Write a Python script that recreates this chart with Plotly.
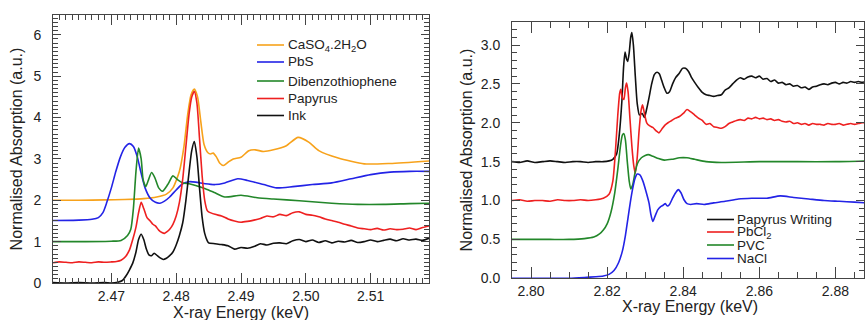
import plotly.graph_objects as go

W, H = 865, 320

# ---------------- Left panel data (S K-edge) ----------------
caso4_x = [2.461, 2.465, 2.469, 2.472, 2.475, 2.477, 2.4785, 2.4795, 2.4805, 2.4812, 2.4818, 2.4823,
           2.4828, 2.4833, 2.4838, 2.4843, 2.4849, 2.4853, 2.4857, 2.4862, 2.4867, 2.4873, 2.488, 2.4888,
           2.490, 2.4912, 2.4922, 2.4935, 2.495, 2.497, 2.4988, 2.5005, 2.502, 2.505, 2.509, 2.513, 2.519]
caso4_y = [2.00, 2.00, 2.01, 2.02, 2.04, 2.08, 2.15, 2.30, 2.70, 3.30, 4.10, 4.55,
           4.69, 4.50, 3.90, 3.35, 3.15, 3.12, 3.14, 3.05, 2.90, 2.84, 2.92, 3.00,
           3.04, 3.20, 3.22, 3.18, 3.22, 3.32, 3.52, 3.40, 3.20, 3.02, 2.88, 2.89, 2.95]

pbs_x = [2.461, 2.465, 2.467, 2.468, 2.4687, 2.4693, 2.470, 2.4707, 2.4714, 2.4721, 2.4728, 2.4734,
         2.4740, 2.4746, 2.4752, 2.4760, 2.4768, 2.4775, 2.4782, 2.479, 2.480, 2.481, 2.482, 2.483,
         2.4845, 2.486, 2.4875, 2.4895, 2.491, 2.4935, 2.4955, 2.498, 2.501, 2.504, 2.507, 2.510,
         2.513, 2.516, 2.519]
pbs_y = [1.51, 1.52, 1.54, 1.58, 1.70, 1.95, 2.30, 2.70, 3.05, 3.28, 3.37, 3.30,
         3.05, 2.65, 2.30, 2.05, 1.95, 1.93, 1.98, 2.08, 2.25, 2.40, 2.45, 2.44,
         2.40, 2.38, 2.42, 2.52, 2.48, 2.38, 2.30, 2.33, 2.38, 2.42, 2.52, 2.62,
         2.68, 2.70, 2.70]

dbt_x = [2.461, 2.466, 2.470, 2.4715, 2.4725, 2.4730, 2.4734, 2.4738, 2.4742, 2.4746, 2.4749, 2.4753,
         2.4757, 2.4762, 2.4767, 2.4773, 2.4779, 2.4787, 2.4795, 2.4802, 2.481, 2.482, 2.483, 2.4845,
         2.486, 2.4875, 2.490, 2.4925, 2.495, 2.499, 2.504, 2.508, 2.512, 2.516, 2.519]
dbt_y = [1.00, 1.00, 1.01, 1.03, 1.15, 1.30, 1.80, 2.70, 3.26, 3.00, 2.50, 2.33,
         2.48, 2.67, 2.55, 2.30, 2.22, 2.38, 2.59, 2.50, 2.42, 2.40, 2.36, 2.28,
         2.18, 2.08, 2.12, 2.06, 2.03, 1.99, 1.93, 1.90, 1.90, 1.92, 1.93]

papyrus_x = [2.461, 2.462, 2.463, 2.464, 2.465, 2.466, 2.467, 2.468, 2.469, 2.470, 2.4708, 2.4715,
             2.4722, 2.4728, 2.4733, 2.4738, 2.4742, 2.4746, 2.4750, 2.4755, 2.4760, 2.4764, 2.4768,
             2.4773, 2.4778, 2.4782, 2.4786, 2.479, 2.4795, 2.480, 2.4805, 2.481, 2.4815, 2.482,
             2.4824, 2.4828, 2.4832, 2.4836, 2.4840, 2.4844, 2.4848,
             2.485, 2.486, 2.487, 2.488, 2.489, 2.490, 2.491, 2.492, 2.493, 2.494, 2.495, 2.496,
             2.497, 2.498, 2.499, 2.500, 2.501, 2.502, 2.503, 2.504, 2.505, 2.506, 2.507, 2.508,
             2.509, 2.510, 2.511, 2.512, 2.513, 2.514, 2.515, 2.516, 2.517, 2.518, 2.519]
papyrus_y = [0.49, 0.51, 0.50, 0.49, 0.51, 0.50, 0.49, 0.51, 0.50, 0.51, 0.52, 0.55,
             0.64, 0.80, 1.05, 1.35, 1.70, 1.95, 1.80, 1.58, 1.50, 1.42, 1.38,
             1.28, 1.22, 1.20, 1.24, 1.30, 1.42, 1.62, 1.95, 2.50, 3.30, 4.10,
             4.50, 4.63, 4.35, 3.50, 2.60, 2.00, 1.75,
             1.72, 1.66, 1.62, 1.55, 1.50, 1.47, 1.49, 1.52, 1.56, 1.62, 1.60, 1.66,
             1.63, 1.70, 1.72, 1.66, 1.64, 1.60, 1.55, 1.51, 1.47, 1.42, 1.38, 1.33,
             1.31, 1.29, 1.32, 1.28, 1.31, 1.29, 1.30, 1.33, 1.29, 1.34, 1.38]

ink_x = [2.461, 2.463, 2.465, 2.467, 2.469, 2.470, 2.471, 2.4717, 2.4723, 2.4728, 2.4733, 2.4738,
         2.4742, 2.4746, 2.4750, 2.4754, 2.4758, 2.4762, 2.4766, 2.4771, 2.4776, 2.478, 2.4785,
         2.479, 2.4795, 2.480, 2.4805, 2.481, 2.4815, 2.482, 2.4824, 2.4828, 2.4832, 2.4836,
         2.484, 2.4844, 2.4848,
         2.485, 2.486, 2.487, 2.488, 2.489, 2.490, 2.491, 2.492, 2.493, 2.494, 2.495, 2.496,
         2.497, 2.498, 2.499, 2.500, 2.501, 2.502, 2.503, 2.504, 2.505, 2.506, 2.507, 2.508,
         2.509, 2.510, 2.511, 2.512, 2.513, 2.514, 2.515, 2.516, 2.517, 2.518, 2.519]
ink_y = [0.01, 0.00, 0.01, 0.00, 0.01, 0.00, 0.02, 0.06, 0.18, 0.32, 0.48, 0.75,
         1.05, 1.18, 1.05, 0.82, 0.68, 0.66, 0.72, 0.66, 0.60, 0.57, 0.60,
         0.66, 0.75, 0.92, 1.15, 1.45, 2.00, 2.70, 3.20, 3.42, 3.05, 2.30,
         1.60, 1.20, 1.02,
         0.97, 0.95, 0.93, 0.90, 0.82, 0.86, 0.84, 0.88, 0.95, 0.92, 0.96, 0.97,
         0.95, 1.02, 1.05, 1.00, 1.04, 0.98, 1.02, 0.97, 1.01, 0.99, 1.03, 0.98,
         1.00, 1.04, 1.00, 1.03, 1.06, 1.02, 1.07, 1.04, 1.06, 1.03, 1.08]

# ---------------- Right panel data (Cl K-edge) ----------------
writing_x = [2.795, 2.797, 2.799, 2.801, 2.803, 2.805, 2.807, 2.809, 2.811, 2.813, 2.815, 2.817, 2.819,
             2.8205, 2.8215, 2.8225, 2.8232, 2.8239, 2.8243, 2.8247, 2.8251, 2.8254, 2.8258, 2.8262,
             2.8265, 2.8269, 2.8274, 2.8279, 2.8285, 2.8292, 2.8298, 2.8304, 2.8310, 2.8317, 2.8324,
             2.8331, 2.8337, 2.8343, 2.8350, 2.8357, 2.8364, 2.8372, 2.8380, 2.8390, 2.8398, 2.8406,
             2.8414, 2.8422, 2.8430, 2.8440, 2.8450, 2.846, 2.847, 2.848, 2.849, 2.850, 2.851, 2.852,
             2.853, 2.854, 2.855, 2.856, 2.857, 2.858, 2.859, 2.860, 2.861, 2.862, 2.863, 2.864,
             2.865, 2.866, 2.867, 2.868, 2.869, 2.870, 2.871, 2.872, 2.873, 2.874, 2.875, 2.876,
             2.877, 2.878, 2.879, 2.880, 2.881, 2.882, 2.883, 2.884, 2.885, 2.886, 2.887, 2.888]
writing_y = [1.50, 1.49, 1.51, 1.49, 1.50, 1.51, 1.50, 1.49, 1.50, 1.50, 1.49, 1.50, 1.50,
             1.51, 1.53, 1.60, 1.85, 2.30, 2.70, 2.91, 2.82, 2.79, 2.90, 3.10,
             3.16, 3.00, 2.60, 2.25, 2.10, 2.12, 2.07, 2.18, 2.32, 2.50, 2.62,
             2.65, 2.63, 2.55, 2.45, 2.38, 2.40, 2.50, 2.58, 2.64, 2.70, 2.70,
             2.66, 2.58, 2.52, 2.45, 2.39, 2.36, 2.35, 2.34, 2.35, 2.36, 2.42, 2.45,
             2.50, 2.55, 2.58, 2.56, 2.59, 2.60, 2.58, 2.60, 2.56, 2.57, 2.53, 2.55,
             2.51, 2.52, 2.49, 2.50, 2.47, 2.48, 2.45, 2.46, 2.43, 2.46, 2.47, 2.49,
             2.50, 2.49, 2.51, 2.52, 2.50, 2.52, 2.51, 2.53, 2.52, 2.53, 2.52, 2.53]

pbcl2_x = [2.795, 2.797, 2.799, 2.801, 2.803, 2.805, 2.807, 2.809, 2.811, 2.813, 2.815, 2.817, 2.819,
           2.8205, 2.8215, 2.8222, 2.8228, 2.8233, 2.8236, 2.8240, 2.8244, 2.8248, 2.8251, 2.8255,
           2.8260, 2.8265, 2.8270, 2.8274, 2.8279, 2.8284, 2.8289, 2.8293, 2.8298, 2.8304, 2.8312,
           2.8320, 2.8328, 2.8336, 2.8344, 2.8352, 2.836, 2.837, 2.838, 2.839, 2.840, 2.841, 2.842,
           2.843, 2.844, 2.845, 2.846, 2.847, 2.848, 2.849, 2.850, 2.851, 2.852, 2.853, 2.854,
           2.855, 2.856, 2.857, 2.858, 2.859, 2.860, 2.861, 2.862, 2.863, 2.864, 2.865, 2.866,
           2.867, 2.868, 2.869, 2.870, 2.871, 2.872, 2.873, 2.874, 2.875, 2.876, 2.877, 2.878,
           2.879, 2.880, 2.881, 2.882, 2.883, 2.884, 2.885, 2.886, 2.887, 2.888]
pbcl2_y = [1.00, 1.01, 0.99, 1.00, 1.00, 0.99, 1.01, 1.00, 1.00, 1.01, 1.00, 1.01, 1.03,
           1.08, 1.25, 1.65, 2.10, 2.38, 2.43, 2.32, 2.30, 2.45, 2.51, 2.40,
           2.05, 1.70, 1.45, 1.35, 1.55, 1.90, 2.15, 2.23, 2.12, 2.00, 1.96,
           1.94, 1.90, 1.87, 1.92, 1.97, 2.00, 2.03, 2.06, 2.08, 2.12, 2.17, 2.14,
           2.10, 2.06, 2.03, 1.98, 1.99, 1.95, 1.94, 1.93, 1.95, 1.99, 2.01, 2.03,
           2.04, 2.03, 2.06, 2.05, 2.07, 2.05, 2.06, 2.04, 2.05, 2.03, 2.04, 2.02,
           2.01, 2.02, 1.99, 2.00, 1.98, 1.99, 1.97, 1.99, 1.98, 1.98, 1.97, 1.99,
           1.98, 1.98, 1.99, 1.97, 1.98, 1.99, 1.98, 1.99, 2.00, 2.00]

pvc_x = [2.795, 2.800, 2.805, 2.810, 2.814, 2.8165, 2.8180, 2.8190, 2.8200, 2.8210, 2.8220, 2.8228,
         2.8235, 2.8240, 2.8244, 2.8248, 2.8253, 2.8258, 2.8262, 2.8267, 2.8273, 2.8280, 2.8290,
         2.8300, 2.8308, 2.8320, 2.8335, 2.8350, 2.8370, 2.8390, 2.8410, 2.8430, 2.8460, 2.8500,
         2.8600, 2.8700, 2.8800, 2.8880]
pvc_y = [0.50, 0.50, 0.50, 0.50, 0.51, 0.53, 0.57, 0.62, 0.70, 0.85, 1.10, 1.40,
         1.70, 1.84, 1.86, 1.78, 1.50, 1.25, 1.15, 1.20, 1.35, 1.48, 1.55,
         1.58, 1.59, 1.57, 1.54, 1.52, 1.53, 1.55, 1.55, 1.53, 1.50, 1.49,
         1.50, 1.50, 1.50, 1.51]

nacl_x = [2.795, 2.800, 2.805, 2.810, 2.814, 2.817, 2.819, 2.8205, 2.8218, 2.8230, 2.8240, 2.8248,
          2.8255, 2.8261, 2.8267, 2.8273, 2.8279, 2.8286, 2.8294, 2.8302, 2.8310, 2.8315, 2.8320,
          2.8326, 2.8333, 2.8340, 2.8347, 2.8353, 2.8358, 2.8364, 2.8372, 2.8380, 2.8387, 2.8394,
          2.8402, 2.8410, 2.8420, 2.8435, 2.8455, 2.848, 2.851, 2.8545, 2.858, 2.862, 2.8655,
          2.869, 2.873, 2.877, 2.881, 2.885, 2.888]
nacl_y = [0.00, 0.00, 0.00, 0.00, 0.01, 0.02, 0.03, 0.05, 0.10, 0.20, 0.35, 0.55,
          0.78, 0.98, 1.15, 1.28, 1.34, 1.33, 1.25, 1.12, 0.97, 0.82, 0.73,
          0.80, 0.88, 0.92, 0.94, 0.96, 0.93, 0.95, 1.03, 1.10, 1.14, 1.10,
          1.01, 0.96, 0.95, 0.96, 0.95, 0.97, 0.99, 1.02, 1.03, 1.03, 1.06,
          1.04, 1.02, 1.00, 0.99, 0.98, 0.97]

# ---------------- Series definitions ----------------
left_series = [
    ("CaSO<sub>4</sub>.2H<sub>2</sub>O", caso4_x, caso4_y, "#F7A21B"),
    ("PbS", pbs_x, pbs_y, "#2323E6"),
    ("Dibenzothiophene", dbt_x, dbt_y, "#23872A"),
    ("Papyrus", papyrus_x, papyrus_y, "#EE2020"),
    ("Ink", ink_x, ink_y, "#111111"),
]
right_series = [
    ("Papyrus Writing", writing_x, writing_y, "#111111"),
    ("PbCl<sub>2</sub>", pbcl2_x, pbcl2_y, "#EE2020"),
    ("PVC", pvc_x, pvc_y, "#23872A"),
    ("NaCl", nacl_x, nacl_y, "#2323E6"),
]
x_title = "X-ray Energy (keV)"
y_title = "Normalised Absorption (a.u.)"

FONT = "Liberation Sans, Arial, Helvetica, sans-serif"
TXT = "#222222"
FRAME = "#444444"

fig = go.Figure()
for name, xs, ys, col in left_series:
    fig.add_trace(go.Scatter(x=xs, y=ys, name=name, mode="lines", xaxis="x", yaxis="y",
                             line=dict(color=col, width=1.6, shape="spline", smoothing=0.6),
                             showlegend=False))
for name, xs, ys, col in right_series:
    fig.add_trace(go.Scatter(x=xs, y=ys, name=name, mode="lines", xaxis="x2", yaxis="y2",
                             line=dict(color=col, width=1.6, shape="spline", smoothing=0.6),
                             showlegend=False))

def px(xp):
    return xp / W

def py(yp):
    return 1 - yp / H

# Legends drawn as line samples + text labels
shapes = []
annotations = []
left_leg_y = [45, 62, 81, 98.5, 115.5]
for (name, _, _, col), yy in zip(left_series, left_leg_y):
    shapes.append(dict(type="line", xref="paper", yref="paper", x0=px(257), x1=px(284),
                       y0=py(yy), y1=py(yy), line=dict(color=col, width=1.6), layer="below"))
    annotations.append(dict(text=name, xref="paper", yref="paper", x=px(286), y=py(yy),
                            xanchor="left", yanchor="middle", showarrow=False,
                            font=dict(family=FONT, size=13.5, color=TXT)))
right_leg_y = [219.5, 232, 245, 258.5]
for (name, _, _, col), yy in zip(right_series, right_leg_y):
    shapes.append(dict(type="line", xref="paper", yref="paper", x0=px(707), x1=px(734),
                       y0=py(yy), y1=py(yy), line=dict(color=col, width=1.6), layer="below"))
    annotations.append(dict(text=name, xref="paper", yref="paper", x=px(735), y=py(yy),
                            xanchor="left", yanchor="middle", showarrow=False,
                            font=dict(family=FONT, size=13.5, color=TXT)))

# x-axis titles (placed as text under each panel)
annotations.append(dict(text=x_title, xref="paper", yref="paper", x=px(241), y=py(312),
                        xanchor="center", yanchor="middle", showarrow=False,
                        font=dict(family=FONT, size=16, color=TXT)))
annotations.append(dict(text=x_title, xref="paper", yref="paper", x=px(690), y=py(306),
                        xanchor="center", yanchor="middle", showarrow=False,
                        font=dict(family=FONT, size=16, color=TXT)))

def base():
    return dict(showline=True, linecolor=FRAME, linewidth=1, mirror="allticks",
                ticks="inside", tickcolor=FRAME, tickwidth=1, showgrid=False, zeroline=False,
                tickfont=dict(family=FONT, size=14, color=TXT), automargin=False)

xaxis = base()
xaxis.update(domain=[53 / W, 429 / W], anchor="y", range=[2.461, 2.519], dtick=0.01,
             tickformat=".2f", ticklen=10, tick0=2.47,
             minor=dict(ticks="inside", ticklen=5, dtick=0.001, tickcolor=FRAME, showgrid=False))
yaxis = base()
yaxis.update(domain=[1 - 283 / H, 1 - 15 / H], anchor="x", range=[0, 6.48], dtick=1, ticklen=8,
             ticklabelstandoff=8, tick0=0,
             minor=dict(ticks="inside", ticklen=5, dtick=0.1, tickcolor=FRAME, showgrid=False),
             title=dict(text=y_title, standoff=6, font=dict(family=FONT, size=16, color=TXT)))
xaxis2 = base()
xaxis2.update(domain=[512 / W, 864 / W], anchor="y2", range=[2.795, 2.8875], dtick=0.02,
              tickformat=".2f", ticklen=11, tick0=2.80,
              minor=dict(ticks="inside", ticklen=6, dtick=0.005, tickcolor=FRAME, showgrid=False))
yaxis2 = base()
yaxis2.update(domain=[1 - 278.3 / H, 1 - 21.7 / H], anchor="x2", range=[0, 3.3], dtick=0.5,
              tickformat=".1f", ticklen=8, ticklabelstandoff=8, tick0=0,
              minor=dict(ticks="inside", ticklen=5, dtick=0.1, tickcolor=FRAME, showgrid=False),
              title=dict(text=y_title, standoff=4, font=dict(family=FONT, size=16, color=TXT)))

fig.update_layout(
    template="none",
    width=W, height=H, margin=dict(l=0, r=0, t=0, b=0, autoexpand=False),
    showlegend=False,
    xaxis=xaxis, yaxis=yaxis, xaxis2=xaxis2, yaxis2=yaxis2,
    shapes=shapes, annotations=annotations,
)

fig.write_html("out.html", config={"displayModeBar": False},
               post_script="document.body.style.margin='0';")
